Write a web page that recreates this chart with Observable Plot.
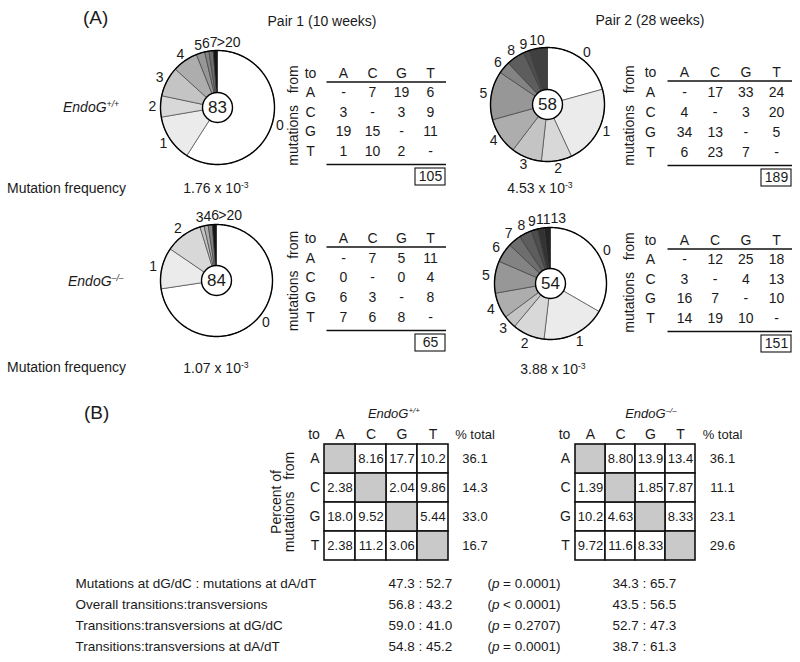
<!DOCTYPE html>
<html><head><meta charset="utf-8">
<script src="https://cdn.jsdelivr.net/npm/d3@7"></script>
<script src="https://cdn.jsdelivr.net/npm/@observablehq/plot@0.6"></script>
<style>
html,body{margin:0;padding:0;background:#fff;}
#fig{position:relative;width:800px;height:662px;overflow:hidden;font-family:"Liberation Sans",Arial,Helvetica,sans-serif;color:#1a1a1a;background:#fff;}
#fig svg{position:absolute;left:0;top:0;background:transparent;overflow:visible;font-family:"Liberation Sans",Arial,Helvetica,sans-serif;font-size:14px;color:#1a1a1a;}
.t{position:absolute;white-space:nowrap;line-height:1;font-size:14px;}
.t sup{font-size:0.62em;vertical-align:baseline;position:relative;top:-0.6em;}
</style></head><body><div id="fig"></div>
<script>
// ---------------- DATA ----------------
const bases = ["A","C","G","T"];
const rowHeads = ["to","A","C","G","T"];

// clones by number of mutations (pie slices)
const pie1WtLabels = ["0","1","2","3","4","5","6","7",">20"];
const pie1WtCounts = [49,11,5,7,6,2,1,1,1];
const pie1KoLabels = ["0","1","2","3","4","6",">20"];
const pie1KoCounts = [61,10,9,1,1,1,1];
const pie2WtLabels = ["0","1","2","3","4","5","6","8","9","10"];
const pie2WtCounts = [12,13,5,5,6,8,2,3,1,3];
const pie2KoLabels = ["0","1","2","3","4","5","6","7","8","9","11","13"];
const pie2KoCounts = [18,10,5,2,4,5,3,2,2,1,1,1];

// mutation counts: rows = from, columns = to
const tab1Wt = [[null,7,19,6],[3,null,3,9],[19,15,null,11],[1,10,2,null]];
const tab1Ko = [[null,7,5,11],[0,null,0,4],[6,3,null,8],[7,6,8,null]];
const tab2Wt = [[null,17,33,24],[4,null,3,20],[34,13,null,5],[6,23,7,null]];
const tab2Ko = [[null,12,25,18],[3,null,4,13],[16,7,null,10],[14,19,10,null]];
const tabTotals = [105,65,189,151]; // pair1 wt, pair1 ko, pair2 wt, pair2 ko

const freqValues = ["1.76","4.53","1.07","3.88"]; // x 10^-3

// percent of mutations (panel B)
const pctWt = [[null,8.16,17.7,10.2],[2.38,null,2.04,9.86],[18.0,9.52,null,5.44],[2.38,11.2,3.06,null]];
const pctWtTotal = [36.1,14.3,33.0,16.7];
const pctKo = [[null,8.80,13.9,13.4],[1.39,null,1.85,7.87],[10.2,4.63,null,8.33],[9.72,11.6,8.33,null]];
const pctKoTotal = [36.1,11.1,23.1,29.6];

const statLabels = ["Mutations at dG/dC : mutations at dA/dT","Overall transitions:transversions","Transitions:transversions at dG/dC","Transitions:transversions at dA/dT"];
const statWt = ["47.3 : 52.7","56.8 : 43.2","59.0 : 41.0","54.8 : 45.2"];
const statP = ["= 0.0001)","< 0.0001)","= 0.2707)","= 0.0001)"];
const statKo = ["34.3 : 65.7","43.5 : 56.5","52.7 : 47.3","38.7 : 61.3"];

// ---------------- STYLE / LAYOUT ----------------
const sliceKeys = ["0","1","2","3","4","5","6","7","8","9","10","11","13",">20"];
const sliceGrays = ["#ffffff","#ebebeb","#d8d8d8","#c4c4c4","#adadad","#979797","#838383","#6e6e6e","#5d5d5d","#4d4d4d","#404040","#333333","#242424","#141414"];
const fig = document.getElementById("fig");

function overlay(opts){
  const svg = Plot.plot(Object.assign({width:800,height:662,margin:0}, opts));
  fig.appendChild(svg);
}
function label(html, x, y, o={}){
  const d = document.createElement("div");
  d.className = "t";
  d.innerHTML = html;
  d.style.left = x + "px"; d.style.top = y + "px";
  d.style.fontSize = (o.size || 14) + "px";
  if (o.italic) d.style.fontStyle = "italic";
  d.style.transform = `translate(${o.anchor === "middle" ? "-50%" : "0"},-50%)`;
  fig.appendChild(d);
}

function pie(labels, counts, cx, cy, R){
  const total = d3.sum(counts);
  const arcs = d3.pie().sort(null).value(d => d)(counts);
  const wedges = [], rim = [];
  arcs.forEach((a, i) => {
    const n = Math.max(2, Math.ceil((a.endAngle - a.startAngle) * 180 / Math.PI));
    wedges.push({k: labels[i], x: 0, y: 0});
    for (let j = 0; j <= n; j++) {
      const t = a.startAngle + (a.endAngle - a.startAngle) * j / n;
      const p = {k: labels[i], x: Math.sin(t), y: Math.cos(t)};
      wedges.push(p); rim.push(p);
    }
    wedges.push({k: labels[i], x: 0, y: 0});
  });
  const lr = 65;
  const lab = arcs.map((a, i) => {
    const t = (a.startAngle + a.endAngle) / 2;
    return {k: labels[i], t, px: lr * Math.sin(t), py: lr * Math.cos(t)};
  });
  const top = lab.filter(d => d.t > Math.PI && Math.cos(d.t) > 0.85);
  const cw = 7.4;
  for (let i = 1; i < top.length; i++) {
    const a = top[i-1], b = top[i];
    const min = a.px + (a.k.length + b.k.length) * cw / 2 + 0.3;
    if (b.px < min) b.px = min;
  }
  lab.forEach(d => { d.x = d.px / R; d.y = d.py / R; });
  overlay({
    x: {domain: [-1, 1], range: [cx - R, cx + R], axis: null},
    y: {domain: [-1, 1], range: [cy + R, cy - R], axis: null},
    color: {domain: sliceKeys, range: sliceGrays},
    marks: [
      Plot.line(wedges, {x: "x", y: "y", z: "k", fill: "k", stroke: "#333", strokeWidth: 0.6, curve: "linear"}),
      Plot.line(rim, {x: "x", y: "y", stroke: "#000", strokeWidth: 1.4, curve: "linear"}),
      Plot.dot([total], {x: () => 0, y: () => 0, r: 15, fill: "white", stroke: "#000", strokeWidth: 1.4}),
      Plot.text([total], {x: () => 0, y: () => 0, text: d => String(d), fontSize: 17}),
      Plot.text(lab, {x: "x", y: "y", text: "k", fontSize: 14})
    ]
  });
}

function countTable(rows, total, L){
  const {xA, xT, yTo, yT} = L;
  const step = (xT - xA) / 3, rs = (yT - yTo) / 4;
  const cells = rows.flatMap((r, i) => r.map((v, j) => ({row: i + 1, col: j + 1, t: v == null ? "-" : String(v)})));
  overlay({
    x: {domain: [1, 4], range: [xA, xT], axis: null},
    y: {domain: [0, 4], range: [yTo, yT], axis: null},
    marks: [
      Plot.text(bases, {x: (d, j) => j + 1, y: () => 0, text: d => d, fontSize: 14}),
      Plot.text(rowHeads, {x: () => 1, dx: -(L.toGap), y: (d, i) => i, text: d => d, fontSize: 14}),
      Plot.text(cells, {x: "col", y: "row", text: "t", fontSize: 14}),
      Plot.text(["mutations\u00a0\u00a0\u00a0from"], {x: () => 1, dx: -(L.rotGap), y: () => 2 + 3 / rs, rotate: -90, fontSize: 14}),
      Plot.ruleY([8.5 / rs], {x1: 1 - 16.5 / step, x2: 4 + 16 / step, stroke: "#111", strokeWidth: 1.5}),
      Plot.ruleY([4 + 13 / rs], {x1: 1 - 16.5 / step, x2: 4 + 16 / step, stroke: "#111", strokeWidth: 1.5}),
      Plot.rect([total], {x1: () => 4 - 15 / step, x2: () => 4 + 15 / step, y1: () => 4 + 17 / rs, y2: () => 4 + 34 / rs, fill: "none", stroke: "#111", strokeWidth: 1.1}),
      Plot.text([total], {x: () => 4, y: () => 4 + 25.5 / rs, text: d => String(d), fontSize: 14})
    ]
  });
}

const fmt = d3.format(".3r");
function pctGrid(vals, totals, x0, x1, y0, y1, withSideLabel){
  const cells = vals.flatMap((r, i) => r.map((v, j) => ({from: bases[i], to: bases[j], v})));
  const rows = bases.map((b, i) => ({b, tot: totals[i]}));
  overlay({
    x: {type: "band", domain: bases, range: [x0, x1], padding: 0, axis: null},
    y: {type: "band", domain: bases, range: [y0, y1], padding: 0, axis: null},
    marks: [
      Plot.cell(cells.filter(d => d.v != null), {x: "to", y: "from", fill: "white", stroke: "#111", strokeWidth: 1.6, inset: 0}),
      Plot.cell(cells.filter(d => d.v == null), {x: "to", y: "from", fill: "#c9c9c9", stroke: "#111", strokeWidth: 1.6, inset: 0}),
      Plot.text(cells.filter(d => d.v != null), {x: "to", y: "from", text: d => fmt(d.v), fontSize: 13}),
      Plot.text(bases, {x: d => d, y: () => "A", dy: -24, text: d => d, fontSize: 14}),
      Plot.text(["to"], {x: () => "A", dx: -26, y: () => "A", dy: -24, text: d => d, fontSize: 14}),
      Plot.text(["% total"], {x: () => "T", dx: 42, y: () => "A", dy: -24, text: d => d, fontSize: 13}),
      Plot.text(rows, {x: () => "A", dx: -25, y: "b", text: "b", fontSize: 14}),
      Plot.text(rows, {x: () => "T", dx: 42, y: "b", text: d => fmt(d.tot), fontSize: 13}),
      ...(withSideLabel ? [
        Plot.text(["Percent of"], {x: () => "A", dx: -63, y: () => "C", dy: 14, rotate: -90, text: d => d, fontSize: 14}),
        Plot.text(["mutations\u00a0\u00a0\u00a0from"], {x: () => "A", dx: -50, y: () => "C", dy: 14, rotate: -90, text: d => d, fontSize: 14})
      ] : [])
    ]
  });
}

// ---------------- PANEL A ----------------
label("(A)", 83, 17, {size: 19});
label("Pair 1 (10 weeks)", 322, 21, {anchor: "middle"});
label("Pair 2 (28 weeks)", 650, 20, {anchor: "middle"});
label("EndoG<sup>+/+</sup>", 63, 107, {italic: true});
label("EndoG<sup>\u2013/\u2013</sup>", 68, 281, {italic: true});
label("Mutation frequency", 7, 188);
label("Mutation frequency", 7, 367);
label(`${freqValues[0]} x 10<sup>-3</sup>`, 216, 188, {anchor: "middle"});
label(`${freqValues[1]} x 10<sup>-3</sup>`, 540, 188, {anchor: "middle"});
label(`${freqValues[2]} x 10<sup>-3</sup>`, 216, 368, {anchor: "middle"});
label(`${freqValues[3]} x 10<sup>-3</sup>`, 553, 369, {anchor: "middle"});

pie(pie1WtLabels, pie1WtCounts, 217, 107, 57);
pie(pie2WtLabels, pie2WtCounts, 547, 104, 57);
pie(pie1KoLabels, pie1KoCounts, 216, 280, 56);
pie(pie2KoLabels, pie2KoCounts, 550, 283, 56);

countTable(tab1Wt, tabTotals[0], {xA: 343, xT: 430, yTo: 73, yT: 151, toGap: 33, rotGap: 50});
countTable(tab2Wt, tabTotals[2], {xA: 684, xT: 776, yTo: 72, yT: 152, toGap: 34, rotGap: 55});
countTable(tab1Ko, tabTotals[1], {xA: 343, xT: 430, yTo: 238, yT: 317, toGap: 33, rotGap: 50});
countTable(tab2Ko, tabTotals[3], {xA: 684, xT: 776, yTo: 240, yT: 318, toGap: 34, rotGap: 55});

// ---------------- PANEL B ----------------
label("(B)", 84, 412, {size: 19});
label("EndoG<sup>+/+</sup>", 394, 414, {italic: true, size: 13, anchor: "middle"});
label("EndoG<sup>\u2013/\u2013</sup>", 651, 414, {italic: true, size: 13, anchor: "middle"});
pctGrid(pctWt, pctWtTotal, 324, 448, 442, 561, true);
pctGrid(pctKo, pctKoTotal, 573, 696, 442, 561, false);

overlay({
  x: {domain: [0, 800], range: [0, 800], axis: null},
  y: {type: "point", domain: statLabels, range: [583, 646], padding: 0, axis: null},
  marks: [
    Plot.text(statLabels, {x: () => 75, y: d => d, text: d => d, textAnchor: "start", fontSize: 13.5}),
    Plot.text(statLabels, {x: () => 388, y: d => d, text: (d, i) => statWt[i], textAnchor: "start", fontSize: 13.5}),
    Plot.text(statLabels, {x: () => 487, y: d => d, text: () => "(", textAnchor: "start", fontSize: 13.5}),
    Plot.text(statLabels, {x: () => 487, dx: 4.5, y: d => d, text: () => "p", textAnchor: "start", fontSize: 13.5, fontStyle: "italic"}),
    Plot.text(statLabels, {x: () => 487, dx: 15.5, y: d => d, text: (d, i) => statP[i], textAnchor: "start", fontSize: 13.5}),
    Plot.text(statLabels, {x: () => 612, y: d => d, text: (d, i) => statKo[i], textAnchor: "start", fontSize: 13.5})
  ]
});
</script></body></html>
